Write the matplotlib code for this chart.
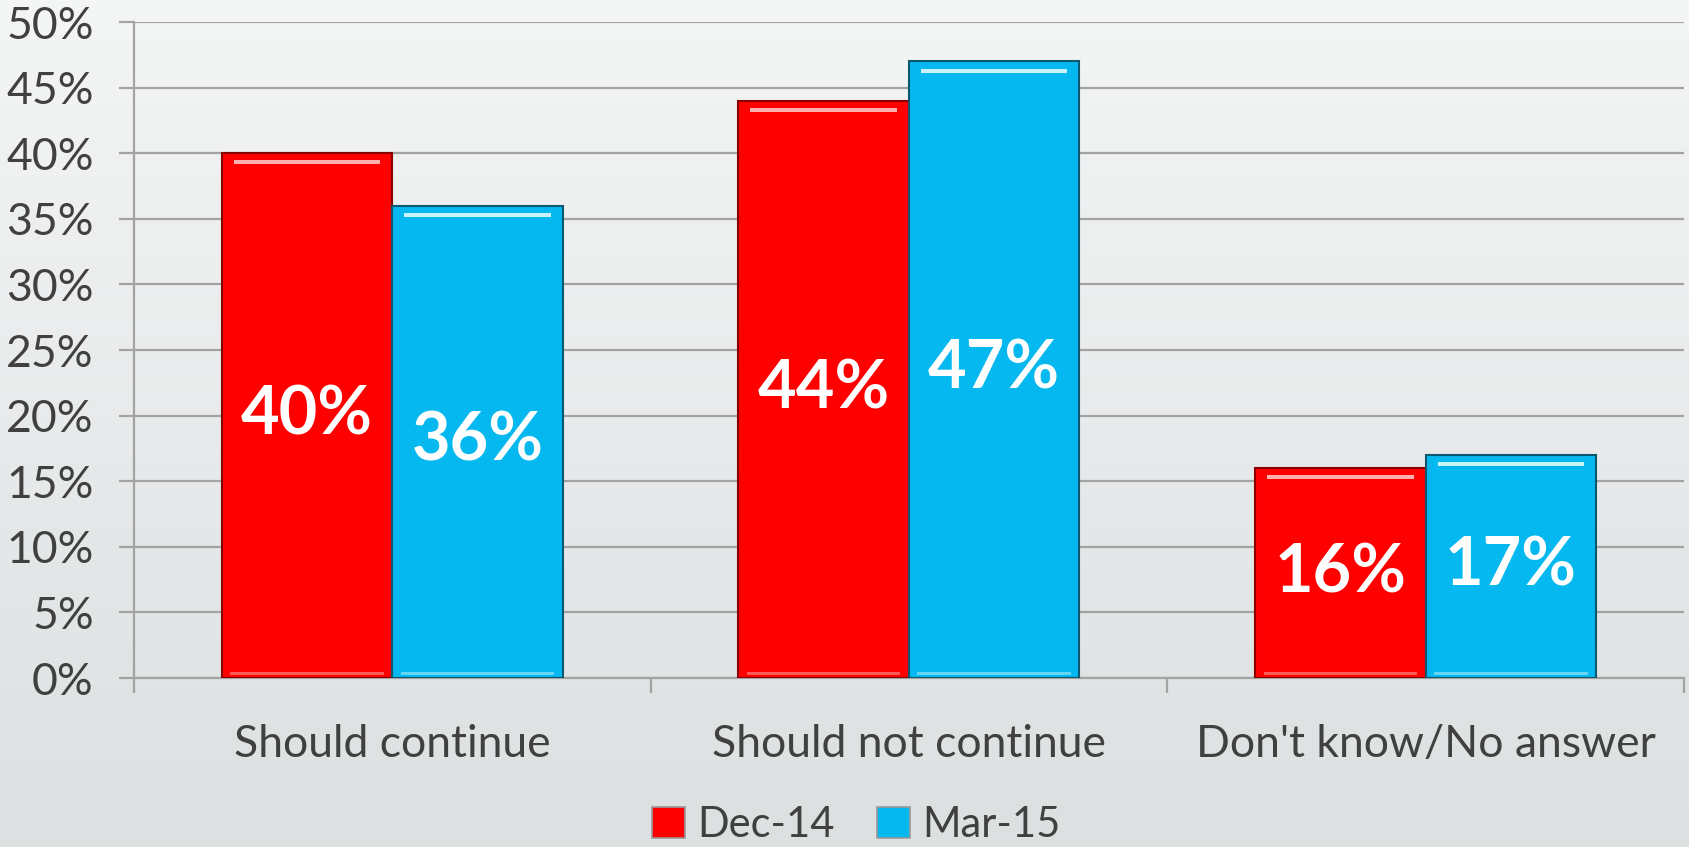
import numpy as np
import matplotlib.pyplot as plt
from matplotlib.patches import Patch

plt.rcParams["font.family"] = ["Lato", "DejaVu Sans"]

# data
categories = ["Should continue", "Should not continue", "Don't know/No answer"]
series_names = ["Dec-14", "Mar-15"]
dec14 = [40, 44, 16]
mar15 = [36, 47, 17]
yticks = [0, 5, 10, 15, 20, 25, 30, 35, 40, 45, 50]

colors = ["#fe0000", "#05b8ef"]
edges = ["#8a0000", "#0f5670"]
shines = ["#ffb0b0", "#c8f4ff"]
text_col = "#404040"
grid_col = "#a3a3a3"

fig = plt.figure(figsize=(16.89, 8.47), dpi=100)

# background gradient
bg = fig.add_axes([0, 0, 1, 1], zorder=-10)
grad = np.linspace(0, 1, 256).reshape(-1, 1)
top = np.array([0xf4, 0xf5, 0xf5]) / 255
bot = np.array([0xdc, 0xe0, 0xe1]) / 255
img = top + (bot - top) * grad[..., None]
bg.imshow(img, aspect="auto", extent=[0, 1, 0, 1])
bg.axis("off")

ax = fig.add_axes([0.0793, 0.1995, 0.9177, 0.7745])
ax.set_facecolor("none")

x = np.arange(len(categories))
w = 0.33
for i, vals in enumerate([dec14, mar15]):
    xs = x + (i - 0.5) * w
    ax.bar(xs, vals, width=w, color=colors[i], edgecolor=edges[i],
           linewidth=1.5, zorder=3)
    # bevel highlight near the top and bottom of each bar
    ax.bar(xs, [0.3] * len(vals), bottom=np.array(vals) - 0.85,
           width=w * 0.86, color=shines[i], linewidth=0, zorder=4)
    ax.bar(xs, [0.25] * len(vals), bottom=0.2,
           width=w * 0.9, color=shines[i], alpha=0.5, linewidth=0, zorder=4)
    for xx, v in zip(xs, vals):
        ax.text(xx, v / 2, f"{v}%", ha="center", va="center", color="white",
                fontsize=48, fontweight="bold", zorder=5)

ax.set_xlim(-0.5, len(categories) - 0.5)
ax.set_ylim(0, 50)
ax.set_yticks(yticks)
ax.set_yticklabels([f"{t}%" for t in yticks])
ax.yaxis.grid(True, color=grid_col, linewidth=1.6, zorder=0)
ax.set_axisbelow(True)

ax.set_xticks(x)
ax.set_xticklabels(categories)
ax.set_xticks(np.arange(len(categories) + 1) - 0.5, minor=True)
ax.tick_params(axis="x", which="major", length=0, pad=33,
               labelsize=32, labelcolor=text_col)
ax.tick_params(axis="x", which="minor", length=11, width=1.6, color=grid_col)
ax.tick_params(axis="y", length=11, width=1.6, color=grid_col, pad=18,
               labelsize=32, labelcolor=text_col)

for s in ["top", "right"]:
    ax.spines[s].set_visible(False)
for s in ["left", "bottom"]:
    ax.spines[s].set_color(grid_col)
    ax.spines[s].set_linewidth(1.6)

handles = [Patch(facecolor=colors[i], edgecolor="#999999", linewidth=1.2)
           for i in range(2)]
fig.legend(handles, series_names, loc="center", bbox_to_anchor=(0.507, 0.026),
           ncol=2, frameon=False, fontsize=30, labelcolor=text_col,
           handlelength=0.8, handleheight=0.8, handletextpad=0.3,
           columnspacing=1.0)

fig.savefig("out.png", dpi=100)
